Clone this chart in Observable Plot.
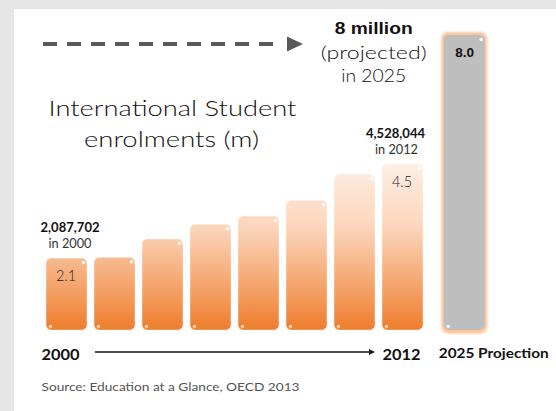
<!DOCTYPE html>
<html><head><meta charset="utf-8">
<script src="https://cdn.jsdelivr.net/npm/d3@7"></script>
<script src="https://cdn.jsdelivr.net/npm/@observablehq/plot@0.6"></script>
<style>
html,body{margin:0;padding:0;background:#e6e6e6;}
#wrap{position:relative;width:556px;height:411px;overflow:hidden;}
#panel{position:absolute;left:14px;top:9px;width:542px;height:402px;background:#fff;}
#chart{position:absolute;left:0;top:0;}
</style></head><body>
<div id="wrap"><div id="panel"></div><div id="chart"></div></div>
<script>
// ---- data ----
const categories = ["2000", "bar2", "bar3", "bar4", "bar5", "bar6", "bar7", "2012"];
const enrolments = [1.95, 1.97, 2.47, 2.87, 3.09, 3.52, 4.23, 4.5];   // millions (bar heights)
const projectionCategory = "2025";
const projectionValue = 8.0;
const barValueLabels = ["2.1", "4.5"];             // printed inside 2000 and 2012 bars
const exactCounts = ["2,087,702", "4,528,044"];
const countYears = ["in 2000", "in 2012"];
const projectionNote = ["8 million", "(projected)", "in 2025"];
const projectionLabel = "8.0";
const axisLabels = ["2000", "2012", "2025 Projection"];
const titleLines = ["International Student", "enrolments (m)"];
const sourceText = "Source: Education at a Glance, OECD 2013";

// ---- derived tables ----
const historical = categories.map((c, i) => ({category: c, value: enrolments[i]}));
const projection = [{category: projectionCategory, value: projectionValue}];
const domain = [...categories, projectionCategory];
const first = historical[0], last = historical[historical.length - 1];

const NS = "http://www.w3.org/2000/svg";
function el(tag, attrs = {}) {
  const e = document.createElementNS(NS, tag);
  for (const k in attrs) e.setAttribute(k, attrs[k]);
  return e;
}

const projDx = 13.7;
const bw = 41;
const gothic = "Lato, 'Open Sans', sans-serif";
const arial = "'Liberation Sans', Arial, sans-serif";

const defsMark = (index, {y}) => {
  const d = el("defs");
  const g = el("linearGradient", {id: "orangeGrad", gradientUnits: "userSpaceOnUse", x1: 0, x2: 0, y1: y(4.6), y2: y(0)});
  [["0%", "#fdf0e6"], ["40%", "#fbd5ba"], ["100%", "#ef7d2e"]].forEach(([o, c]) => g.appendChild(el("stop", {offset: o, "stop-color": c})));
  d.appendChild(g);
  const f = el("filter", {id: "soft", x: "-20%", y: "-5%", width: "140%", height: "110%"});
  f.appendChild(el("feGaussianBlur", {stdDeviation: 0.9}));
  d.appendChild(f);
  return d;
};

const arrowsMark = (index, {x, y}) => {
  const g = el("g");
  const x0 = x(categories[0]) - 3, tip = x(categories[7]) - 79, yy = y(projectionValue) + 9;
  g.appendChild(el("line", {x1: x0, x2: tip - 21, y1: yy, y2: yy, stroke: "#595959", "stroke-width": 4, "stroke-dasharray": "14,10"}));
  g.appendChild(el("path", {d: `M${tip - 16},${yy - 7.5}L${tip},${yy}L${tip - 16},${yy + 7.5}Z`, fill: "#595959"}));
  const b0 = x(categories[1]) + 1, b1 = x(categories[7]) - 7, by = y(0) + 22;
  g.appendChild(el("line", {x1: b0, x2: b1 - 5, y1: by, y2: by, stroke: "#111", "stroke-width": 1.3}));
  g.appendChild(el("path", {d: `M${b1 - 6},${by - 3}L${b1},${by}L${b1 - 6},${by + 3}Z`, fill: "#111"}));
  return g;
};

const txt = (data, o) => Plot.text(data, {lineAnchor: "bottom", ...o});

const chart = Plot.plot({
  width: 556, height: 411,
  marginLeft: 46, marginRight: 84.2, marginTop: 35, marginBottom: 81,
  x: {domain, paddingInner: 0.148, paddingOuter: 0, axis: null},
  y: {domain: [0, 8], axis: null},
  style: {background: "transparent", overflow: "visible"},
  marks: [
    defsMark,
    Plot.barY(historical, {x: "category", y: "value", fill: "url(#orangeGrad)", rx: 5, stroke: "#fff", strokeOpacity: 0.35, strokeWidth: 1.2}),
    Plot.barY(projection, {x: "category", y: "value", fill: "#fbc59c", rx: 7, dx: projDx, insetLeft: -2.5, insetRight: -2.5, insetTop: -3, insetBottom: -3.5}),
    Plot.barY(projection, {x: "category", y: "value", fill: "#bebebe", rx: 5, dx: projDx}),
    // corner highlights
    Plot.dot(historical, {x: "category", y: "value", r: 1.8, fill: "#fff", fillOpacity: 0.9, dx: bw / 2 - 4, dy: 4}),
    Plot.dot(historical, {x: "category", y: 0, r: 1.8, fill: "#fff", fillOpacity: 0.6, dx: -bw / 2 + 4, dy: -4}),
    Plot.dot(projection, {x: "category", y: "value", r: 1.8, fill: "#fff", fillOpacity: 0.9, dx: projDx + bw / 2 - 4, dy: 4}),
    Plot.dot(projection, {x: "category", y: 0, r: 1.8, fill: "#fff", fillOpacity: 0.8, dx: projDx - bw / 2 + 4, dy: -4}),
    arrowsMark,
    // title
    txt([titleLines[0]], {frameAnchor: "top-left", textAnchor: "middle", dx: 126, dy: 80, fontSize: 21, fontFamily: gothic, fontWeight: 300, fill: "#111"}),
    txt([titleLines[1]], {frameAnchor: "top-left", textAnchor: "middle", dx: 125, dy: 111, fontSize: 21, fontFamily: gothic, fontWeight: 300, fill: "#111"}),
    // projection note
    txt(projection, {x: "category", y: "value", text: () => projectionNote[0], dx: -77.3, dy: -2, fontSize: 17, fontWeight: "bold", fontFamily: arial, fill: "#111"}),
    txt(projection, {x: "category", y: "value", text: () => projectionNote[1], dx: -77.3, dy: 23, fontSize: 18.5, fontFamily: gothic, fontWeight: 300, fill: "#111"}),
    txt(projection, {x: "category", y: "value", text: () => projectionNote[2], dx: -77.3, dy: 46, fontSize: 18.5, fontFamily: gothic, fontWeight: 300, fill: "#111"}),
    txt(projection, {x: "category", y: "value", text: () => projectionLabel, dx: projDx, dy: 21, fontSize: 13.5, fontWeight: "bold", fontFamily: arial, fill: "#111"}),
    // exact counts
    txt([first], {x: "category", y: "value", text: () => exactCounts[0], dx: 3, dy: -27, fontSize: 12.5, fontWeight: "bold", fontFamily: gothic, fill: "#111"}),
    txt([first], {x: "category", y: "value", text: () => countYears[0], dx: 3, dy: -11, fontSize: 12.5, fontFamily: gothic, fill: "#333"}),
    txt([last], {x: "category", y: "value", text: () => exactCounts[1], dx: -7.5, dy: -27, fontSize: 12.5, fontWeight: "bold", fontFamily: gothic, fill: "#111"}),
    txt([last], {x: "category", y: "value", text: () => countYears[1], dx: -6.5, dy: -11, fontSize: 12.5, fontFamily: gothic, fill: "#333"}),
    // values inside bars
    txt([first, last], {x: "category", y: "value", text: (d, i) => barValueLabels[i], dx: -1, dy: 22, fontSize: 15, fontFamily: gothic, fontWeight: 300, fill: "#222"}),
    // bottom labels
    txt([first], {x: "category", y: 0, text: () => axisLabels[0], textAnchor: "start", dx: -25.5, dy: 29, fontSize: 16, fontWeight: "bold", fontFamily: gothic, fill: "#111"}),
    txt([last], {x: "category", y: 0, text: () => axisLabels[1], dx: -1.5, dy: 29, fontSize: 16, fontWeight: "bold", fontFamily: gothic, fill: "#111"}),
    txt(projection, {x: "category", y: 0, text: () => axisLabels[2], dx: 42.7, dy: 27, fontSize: 14, fontWeight: "bold", fontFamily: gothic, fill: "#111"}),
    // source
    txt([sourceText], {frameAnchor: "bottom-left", dx: -5, dy: 60, textAnchor: "start", fontSize: 12, fontFamily: gothic, fill: "#555"})
  ]
});
document.getElementById("chart").appendChild(chart);

// soften the glow behind the projection bar
d3.select(chart).selectAll("rect").filter(function () { return this.getAttribute("fill") === "#fbc59c" || (this.parentNode && this.parentNode.getAttribute("fill") === "#fbc59c"); })
  .attr("filter", "url(#soft)");

// widen the substitute font to the widths of the original (wide, geometric) lettering
const targetWidths = {
  [titleLines[0]]: 248, [titleLines[1]]: 175,
  [projectionNote[0]]: 78, [projectionNote[1]]: 106, [projectionNote[2]]: 65,
  [exactCounts[0]]: 59, [exactCounts[1]]: 59, [countYears[0]]: 43, [countYears[1]]: 43,
  [barValueLabels[0]]: 20, [barValueLabels[1]]: 20,
  [axisLabels[0]]: 38, [axisLabels[1]]: 38, [axisLabels[2]]: 110,
  [sourceText]: 258
};
d3.select(chart).selectAll("text").each(function () {
  const w = targetWidths[this.textContent];
  if (w) {
    this.setAttribute("textLength", w);
    this.setAttribute("lengthAdjust", "spacingAndGlyphs");
  }
});
</script>
</body></html>
